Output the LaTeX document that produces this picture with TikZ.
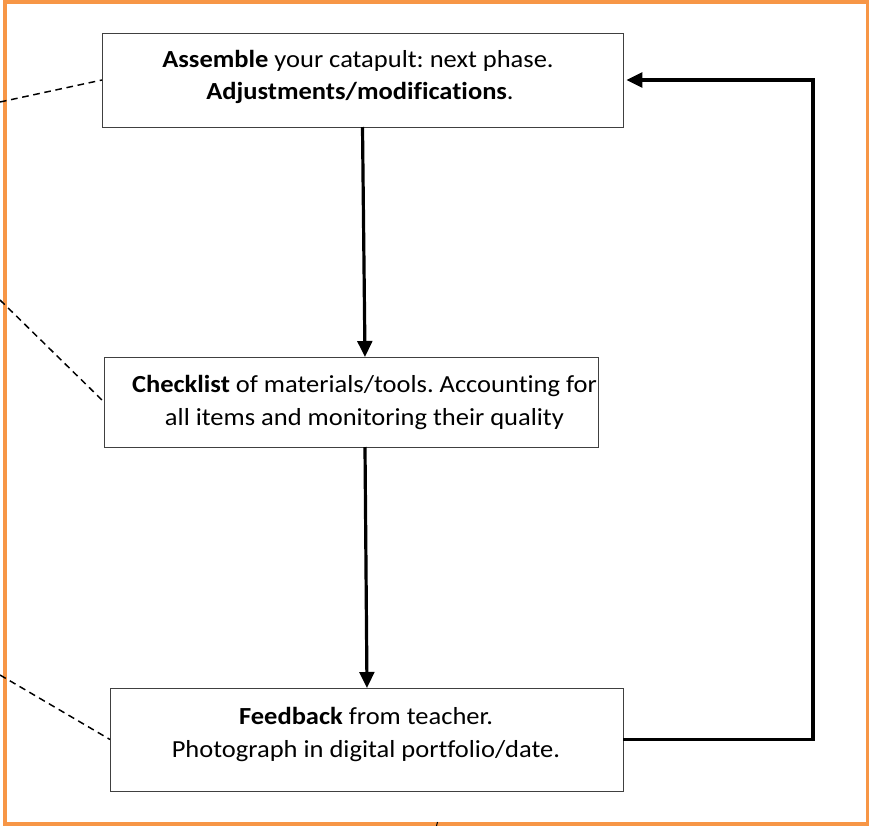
\documentclass[tikz,border=0pt]{standalone}
\usepackage{fontspec}
\setmainfont{Carlito}[Ligatures=NoCommon, FakeStretch=1.08]
\usetikzlibrary{arrows.meta}
\definecolor{frameorange}{HTML}{F79646}
\definecolor{boxline}{HTML}{404040}
\frenchspacing
\begin{document}
\begin{tikzpicture}[x=0.75pt,y=-0.75pt,
  stagebox/.style={draw=boxline, line width=0.75pt, inner sep=0pt, outer sep=0pt, fill=white},
  linetext/.style={anchor=base, inner sep=0pt, font=\fontsize{18.4}{24}\selectfont},
  flowarrow/.style={line width=2.4pt, -{Triangle[length=12pt,width=11pt]}, line join=miter},
  leader/.style={line width=1.1pt, dash pattern=on 5pt off 3.5pt}]
\useasboundingbox (0,0) rectangle (869,826);
% frame
\draw[frameorange, line width=3pt] (5,1.5) rectangle (867.5,824);
% boxes
\node[stagebox, minimum width=390.75pt, minimum height=70.5pt] (box1) at (362.5,80) {};
\node[stagebox, minimum width=370.5pt, minimum height=67.5pt] (box2) at (351,402) {};
\node[stagebox, minimum width=384.75pt, minimum height=77.25pt] (box3) at (366.5,739.5) {};
% texts
\node[linetext] (t1a) at (358,67) {\textbf{Assemble} your catapult: next phase.};
\node[linetext] (t1b) at (360,99) {\textbf{Adjustments/modifications}.};
\node[linetext] (t2a) at (364.5,392) {\textbf{Checklist} of materials/tools. Accounting for};
\node[linetext] (t2b) at (364.5,425) {all items and monitoring their quality};
\node[linetext] (t3a) at (366,724) {\textbf{Feedback} from teacher.};
\node[linetext] (t3b) at (366,757) {Photograph in digital portfolio/date.};
% arrows
\coordinate (a1e) at (365,357);
\coordinate (a2s) at (365,447);
\coordinate (a2e) at (367,688);
\coordinate (fb) at (813,0);
\draw[flowarrow] (box1.south) -- (a1e);
\draw[flowarrow] (a2s) -- (a2e);
\draw[flowarrow, shorten >=2.5pt] (box3.east) -- (box3.east -| fb) -- (box1.east -| fb) -- (box1.east);
% dashed leaders
\coordinate (d1) at (0,102);
\coordinate (d2) at (0,300);
\coordinate (d3) at (0,675);
\draw[leader] (d1) -- (box1.west);
\draw[leader] (d2) -- (box2.west);
\draw[leader] (d3) -- (box3.west);
% small tick
\coordinate (k1) at (437.5,822);
\coordinate (k2) at (436.5,826);
\draw[line width=0.8pt] (k1) -- (k2);
\end{tikzpicture}
\end{document}
